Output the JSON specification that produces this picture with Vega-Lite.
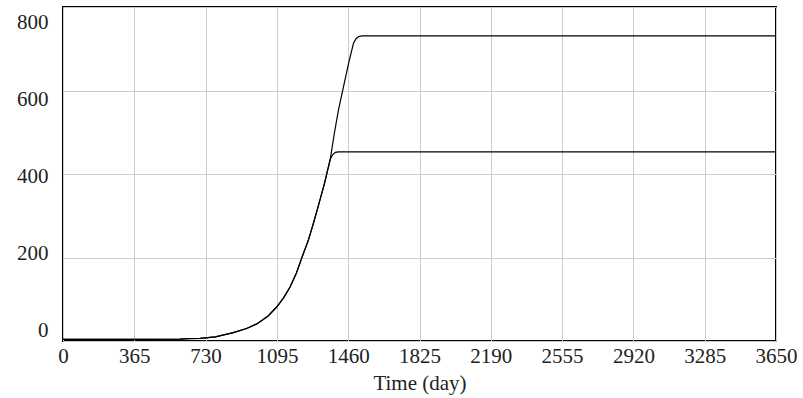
{
  "$schema": "https://vega.github.io/schema/vega-lite/v6.json",
  "width": 713,
  "height": 334,
  "autosize": "none",
  "padding": {"left": 63, "top": 7, "right": 27, "bottom": 57},
  "background": "white",
  "config": {
    "view": {"stroke": "black", "strokeWidth": 2},
    "axis": {
      "labelFont": "Liberation Serif",
      "titleFont": "Liberation Serif",
      "labelFontSize": 21,
      "titleFontSize": 21,
      "titleFontWeight": "normal",
      "labelColor": "#222",
      "titleColor": "#222",
      "domain": false,
      "ticks": false,
      "gridColor": "#cccccc",
      "gridWidth": 1,
      "gridOpacity": 1
    }
  },
  "data": {
    "values": [
      {"t": 0, "v": 4, "s": "A"}, {"t": 365, "v": 4, "s": "A"}, {"t": 600, "v": 4.5, "s": "A"}, {"t": 640, "v": 5.5, "s": "A"}, {"t": 702, "v": 6.5, "s": "A"}, {"t": 780, "v": 10, "s": "A"}, {"t": 872, "v": 20, "s": "A"}, {"t": 940, "v": 30, "s": "A"}, {"t": 992, "v": 41, "s": "A"}, {"t": 1050, "v": 60, "s": "A"}, {"t": 1095, "v": 82, "s": "A"}, {"t": 1130, "v": 104, "s": "A"}, {"t": 1163, "v": 130, "s": "A"}, {"t": 1195, "v": 163, "s": "A"}, {"t": 1223, "v": 200, "s": "A"}, {"t": 1255, "v": 240, "s": "A"}, {"t": 1282, "v": 282, "s": "A"}, {"t": 1305, "v": 320, "s": "A"}, {"t": 1325, "v": 354, "s": "A"}, {"t": 1340, "v": 380, "s": "A"}, {"t": 1351, "v": 402, "s": "A"}, {"t": 1368, "v": 435, "s": "A"}, {"t": 1390, "v": 500, "s": "A"}, {"t": 1410, "v": 553, "s": "A"}, {"t": 1436, "v": 609, "s": "A"}, {"t": 1462, "v": 665, "s": "A"}, {"t": 1487, "v": 713, "s": "A"}, {"t": 1500, "v": 724, "s": "A"}, {"t": 1513, "v": 729, "s": "A"}, {"t": 1530, "v": 731, "s": "A"}, {"t": 3650, "v": 731, "s": "A"},
      {"t": 0, "v": 4, "s": "B"}, {"t": 365, "v": 4, "s": "B"}, {"t": 600, "v": 4.5, "s": "B"}, {"t": 640, "v": 5.5, "s": "B"}, {"t": 702, "v": 6.5, "s": "B"}, {"t": 780, "v": 10, "s": "B"}, {"t": 872, "v": 20, "s": "B"}, {"t": 940, "v": 30, "s": "B"}, {"t": 992, "v": 41, "s": "B"}, {"t": 1050, "v": 60, "s": "B"}, {"t": 1095, "v": 82, "s": "B"}, {"t": 1130, "v": 104, "s": "B"}, {"t": 1163, "v": 130, "s": "B"}, {"t": 1195, "v": 163, "s": "B"}, {"t": 1223, "v": 200, "s": "B"}, {"t": 1255, "v": 240, "s": "B"}, {"t": 1282, "v": 282, "s": "B"}, {"t": 1305, "v": 320, "s": "B"}, {"t": 1325, "v": 354, "s": "B"}, {"t": 1340, "v": 380, "s": "B"}, {"t": 1351, "v": 402, "s": "B"}, {"t": 1368, "v": 435, "s": "B"}, {"t": 1380, "v": 446, "s": "B"}, {"t": 1395, "v": 452, "s": "B"}, {"t": 1410, "v": 453, "s": "B"}, {"t": 3650, "v": 453, "s": "B"}
    ]
  },
  "mark": {"type": "line", "strokeWidth": 1.2, "color": "black", "clip": true},
  "encoding": {
    "x": {
      "field": "t", "type": "quantitative",
      "scale": {"domain": [0, 3650], "nice": false, "zero": false},
      "axis": {"values": [0, 365, 730, 1095, 1460, 1825, 2190, 2555, 2920, 3285, 3650], "title": "Time (day)", "labelPadding": 4, "titlePadding": 6, "labelFlush": false, "format": "d"}
    },
    "y": {
      "field": "v", "type": "quantitative",
      "scale": {"domain": [0, 800], "nice": false},
      "axis": {"values": [0, 200, 400, 600, 800], "title": null, "labelPadding": 15, "labelOffset": {"expr": "-11 + datum.value * 0.0325"}, "format": "d"}
    },
    "detail": {"field": "s", "type": "nominal"}
  }
}
